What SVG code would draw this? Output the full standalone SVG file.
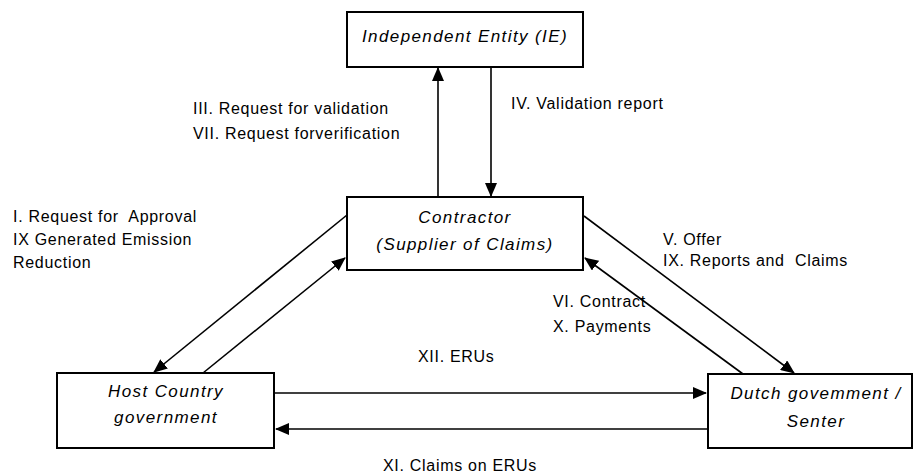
<svg xmlns="http://www.w3.org/2000/svg" width="913" height="474" viewBox="0 0 913 474">
<style>
  .box { fill: #ffffff; stroke: #000000; stroke-width: 2; }
  .node { font-family: "Liberation Sans", Arial, sans-serif; font-size: 17px; font-style: italic; letter-spacing: 1.4px; fill: #000000; text-anchor: middle; }
  .lbl { font-family: "Liberation Sans", Arial, sans-serif; font-size: 16px; letter-spacing: 0.7px; fill: #000000; white-space: pre; }
  .conn { stroke: #000000; stroke-width: 1.6; fill: none; marker-end: url(#arrow); }
</style>
<defs>
  <marker id="arrow" markerUnits="userSpaceOnUse" markerWidth="14" markerHeight="12" viewBox="0 0 14 12" refX="13" refY="6" orient="auto">
    <path d="M0,0 L14,6 L0,12 Z" fill="#000000"/>
  </marker>
</defs>
<rect width="913" height="474" fill="#ffffff"/>

<g id="connectors">
  <line class="conn" x1="438" y1="197" x2="438" y2="68"/>
  <line class="conn" x1="491" y1="67" x2="491" y2="196"/>
  <line class="conn" x1="347" y1="215" x2="154" y2="372"/>
  <line class="conn" x1="203" y1="373" x2="345" y2="258"/>
  <line class="conn" x1="584" y1="216" x2="794" y2="373"/>
  <line class="conn" x1="743" y1="374" x2="585" y2="258"/>
  <line class="conn" x1="274" y1="393" x2="706" y2="393"/>
  <line class="conn" x1="708" y1="429" x2="276" y2="429"/>
</g>

<g id="ie">
  <rect class="box" x="347" y="12" width="236" height="55"/>
  <text class="node" x="465" y="42">Independent Entity (IE)</text>
</g>
<g id="contractor">
  <rect class="box" x="347" y="197" width="236" height="73"/>
  <text class="node" x="465" y="223">Contractor</text>
  <text class="node" x="465" y="250">(Supplier of Claims)</text>
</g>
<g id="host">
  <rect class="box" x="57" y="373" width="217" height="75"/>
  <text class="node" x="166" y="397">Host Country</text>
  <text class="node" x="166" y="423">government</text>
</g>
<g id="dutch">
  <rect class="box" x="708" y="374" width="204" height="74"/>
  <text class="node" x="816" y="399">Dutch govemment /</text>
  <text class="node" x="816" y="427">Senter</text>
</g>

<g id="labels">
  <text class="lbl" x="193" y="114">III. Request for validation</text>
  <text class="lbl" x="193" y="139">VII. Request forverification</text>
  <text class="lbl" x="511" y="109">IV. Validation report</text>
  <text class="lbl" x="13" y="222">I. Request for  Approval</text>
  <text class="lbl" x="13" y="245">IX Generated Emission</text>
  <text class="lbl" x="13" y="268">Reduction</text>
  <text class="lbl" x="663" y="245">V. Offer</text>
  <text class="lbl" x="663" y="266">IX. Reports and  Claims</text>
  <text class="lbl" x="553" y="307">VI. Contract</text>
  <text class="lbl" x="553" y="332">X. Payments</text>
  <text class="lbl" x="418" y="362">XII. ERUs</text>
  <text class="lbl" x="383" y="471">XI. Claims on ERUs</text>
</g>
</svg>
